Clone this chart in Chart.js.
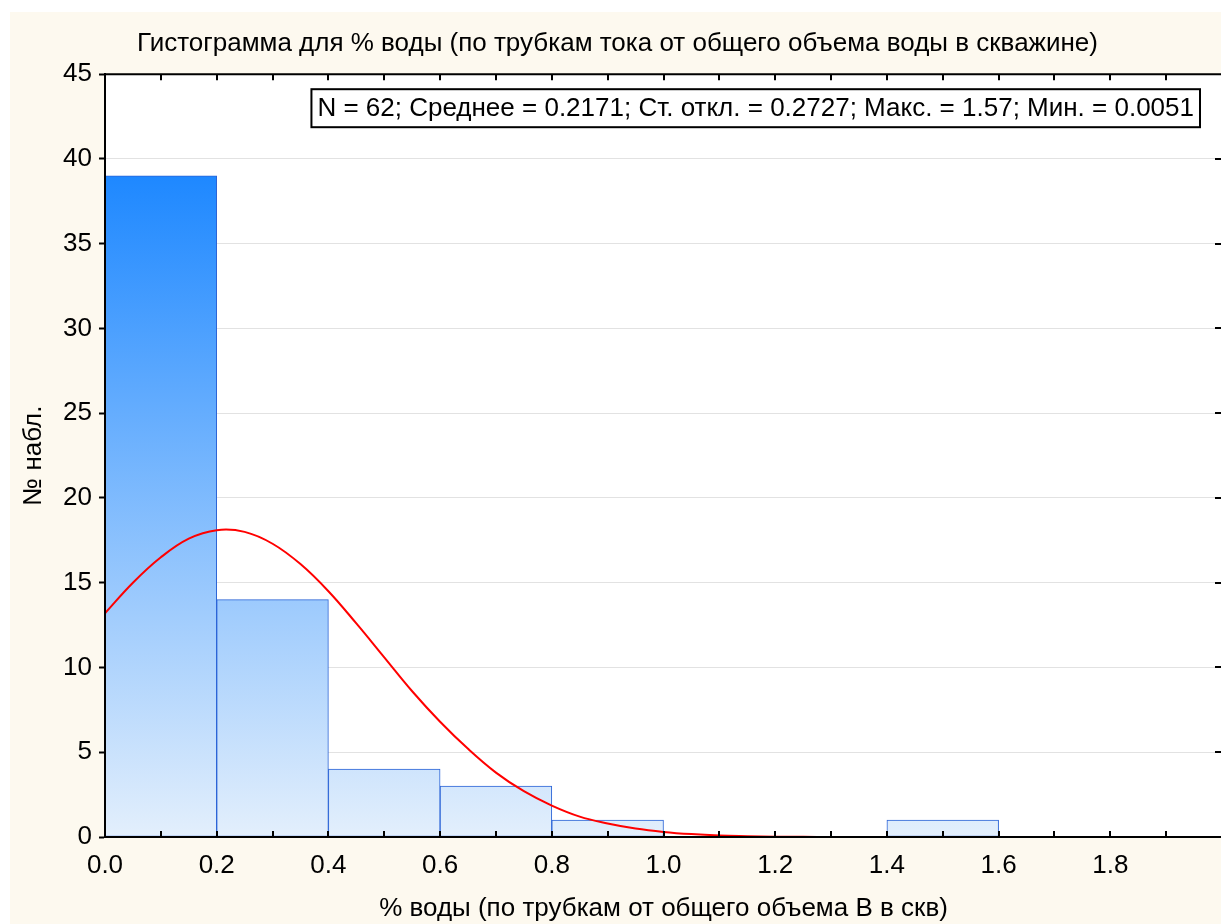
<!DOCTYPE html>
<html>
<head>
<meta charset="utf-8">
<script src="https://cdn.jsdelivr.net/npm/chart.js@4"></script>
<style>
  html, body { margin: 0; padding: 0; overflow: hidden; background: #ffffff; }
  #wrap { width: 1235px; height: 924px; position: relative; }
</style>
</head>
<body>
<div id="wrap"><canvas id="hist"></canvas></div>
<script>
// ---- data -------------------------------------------------------
const binMids   = [0.1, 0.3, 0.5, 0.7, 0.9, 1.1, 1.3, 1.5, 1.7, 1.9];
const binCounts = [39, 14, 4, 3, 1, 0, 0, 1, 0, 0];

const curveX = [0.00, 0.05, 0.10, 0.15, 0.20, 0.25, 0.30, 0.35, 0.40, 0.45,
                0.50, 0.55, 0.60, 0.65, 0.70, 0.75, 0.80, 0.85, 0.90, 0.95,
                1.00, 1.05, 1.10, 1.15, 1.20, 1.25, 1.30];
const curveY = [13.2, 15.0, 16.5, 17.6, 18.1, 18.0, 17.3, 16.1, 14.5, 12.6,
                10.6, 8.6, 6.8, 5.2, 3.8, 2.7, 1.85, 1.2, 0.8, 0.5,
                0.3, 0.17, 0.09, 0.05, 0.02, 0.01, 0.0];

const xTickLabels = ["0.0", "0.2", "0.4", "0.6", "0.8", "1.0", "1.2", "1.4", "1.6", "1.8"];

const TITLE   = "Гистограмма для % воды (по трубкам тока от общего объема воды в скважине)";
const X_TITLE = "% воды (по трубкам от общего объема В в скв)";
const Y_TITLE = "№ набл.";
const STATS   = "N = 62; Среднее = 0.2171; Ст. откл. = 0.2727; Макс. = 1.57; Мин. = 0.0051";

const FONT = "'Liberation Sans', Arial, sans-serif";
const CREAM = "#fdf9ef";

// ---- helpers ----------------------------------------------------
function barGradient(context) {
  const { chart } = context;
  const { ctx, chartArea, scales } = chart;
  if (!chartArea) return "#8fc2fb";
  const top = scales.y.getPixelForValue(39);
  const bot = scales.y.getPixelForValue(0);
  const g = ctx.createLinearGradient(0, top, 0, bot);
  g.addColorStop(0, "#1e88ff");
  g.addColorStop(1, "#e3effc");
  return g;
}

const decor = {
  id: "decor",
  beforeDraw(chart) {
    const { ctx, width, height, chartArea: a } = chart;
    ctx.save();
    ctx.fillStyle = "#ffffff";
    ctx.fillRect(0, 0, width, height);
    ctx.fillStyle = CREAM;
    ctx.fillRect(10, 12, width - 10, height - 12);
    ctx.fillStyle = "#ffffff";
    ctx.fillRect(a.left, a.top, a.right - a.left, a.bottom - a.top);
    ctx.restore();
  },
  afterDatasetsDraw(chart) {
    const { ctx, chartArea: a, scales } = chart;
    const x = scales.x, y = scales.y;
    ctx.save();
    ctx.strokeStyle = "#000000";
    ctx.lineWidth = 2;
    // frame
    ctx.beginPath();
    ctx.moveTo(a.left, a.bottom);
    ctx.lineTo(a.left, a.top);
    ctx.lineTo(a.right, a.top);
    ctx.lineTo(a.right, a.bottom);
    ctx.lineTo(a.left, a.bottom);
    ctx.stroke();
    // inner ticks, top and bottom every 0.1
    ctx.beginPath();
    for (let i = 1; i < 20; i++) {
      const px = Math.round(x.getPixelForValue(i / 10));
      ctx.moveTo(px, a.bottom);
      ctx.lineTo(px, a.bottom - 6);
      ctx.moveTo(px, a.top);
      ctx.lineTo(px, a.top + 6);
    }
    // right side ticks every 5
    for (let v = 5; v < 45; v += 5) {
      const py = Math.round(y.getPixelForValue(v));
      ctx.moveTo(a.right, py);
      ctx.lineTo(a.right - 7, py);
    }
    ctx.stroke();

    // stats box
    ctx.font = "26px " + FONT;
    const tw = ctx.measureText(STATS).width;
    const bw = tw + 12, bh = 38;
    const bx = a.right - 22 - bw, by = a.top + 15;
    ctx.fillStyle = "#ffffff";
    ctx.fillRect(bx, by, bw, bh);
    ctx.strokeRect(bx, by, bw, bh);
    ctx.fillStyle = "#000000";
    ctx.textAlign = "center";
    ctx.textBaseline = "middle";
    ctx.fillText(STATS, bx + bw / 2, by + bh / 2 + 1);
    ctx.restore();
  },
};

// ---- chart ------------------------------------------------------
new Chart(document.getElementById("hist"), {
  type: "bar",
  data: {
    datasets: [
      {
        type: "line",
        label: "normal",
        data: curveX.map((v, i) => ({ x: v, y: curveY[i] })),
        borderColor: "#ff0000",
        borderWidth: 2,
        pointRadius: 0,
        tension: 0.4,
        fill: false,
        order: 0,
      },
      {
        label: "count",
        data: binMids.map((v, i) => ({ x: v, y: binCounts[i] })),
        backgroundColor: barGradient,
        borderColor: "#2a63d6",
        borderWidth: 1,
        borderSkipped: false,
        barThickness: "flex",
        barPercentage: 1,
        categoryPercentage: 1,
        order: 1,
      },
    ],
  },
  options: {
    responsive: true,
    maintainAspectRatio: false,
    animation: false,
    layout: { padding: { top: 12, left: 10, right: 10, bottom: 0 } },
    plugins: {
      legend: { display: false },
      tooltip: { enabled: false },
      title: {
        display: true,
        text: TITLE,
        color: "#000000",
        font: { family: FONT, size: 26, weight: "normal" },
        padding: { top: 16, bottom: 15 },
      },
    },
    scales: {
      x: {
        type: "linear",
        position: "bottom",
        min: 0,
        max: 2,
        offset: false,
        grid: { display: false, drawTicks: false, offset: false },
        border: { display: true, color: "#000000", width: 2 },
        ticks: {
          stepSize: 0.2,
          padding: 13,
          color: "#000000",
          maxRotation: 0,
          autoSkip: false,
          font: { family: FONT, size: 26 },
          callback: (v, i) => (i < xTickLabels.length ? xTickLabels[i] : ""),
        },
        title: {
          display: true,
          text: X_TITLE,
          color: "#000000",
          font: { family: FONT, size: 26 },
          padding: { top: 0, bottom: 0 },
        },
        afterFit: (s) => { s.height = 87; },
      },
      y: {
        type: "linear",
        min: 0,
        max: 45,
        grid: {
          color: (c) => (c.tick && (c.tick.value === 0 || c.tick.value === 45) ? "rgba(0,0,0,0)" : "#e2e2e2"),
          lineWidth: 1,
          tickColor: "#000000",
          tickWidth: 2,
          tickLength: 6,
        },
        border: { display: true, color: "#000000", width: 2 },
        ticks: {
          stepSize: 5,
          padding: 7,
          color: "#000000",
          font: { family: FONT, size: 26 },
        },
        title: {
          display: true,
          text: Y_TITLE,
          color: "#000000",
          font: { family: FONT, size: 26 },
          padding: { top: 8, bottom: 0 },
        },
        afterFit: (s) => { s.width = 95; },
      },
    },
  },
  plugins: [decor],
});
</script>
</body>
</html>
